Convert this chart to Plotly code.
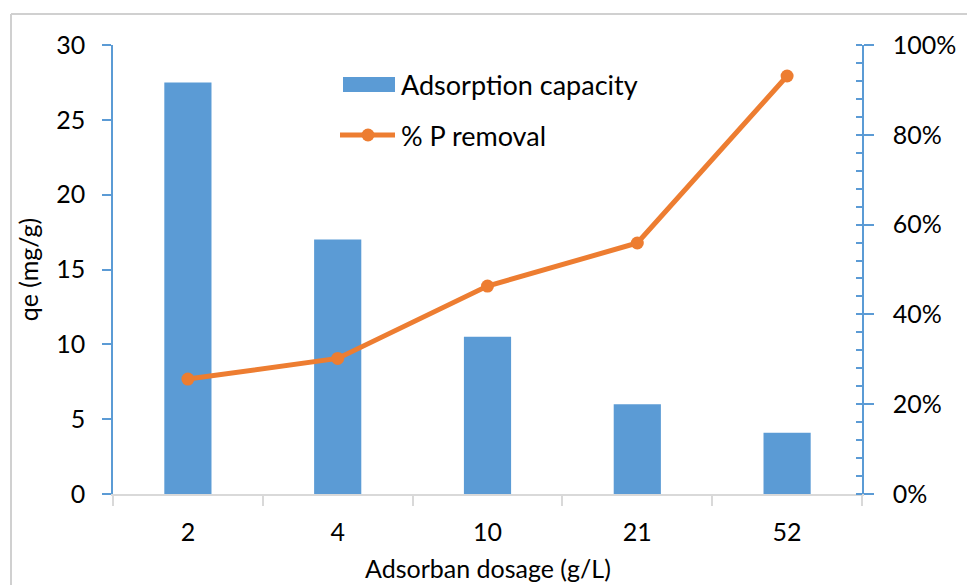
import plotly.graph_objects as go

# Adsorbent dosage (g/L) and measured responses
dosage = ["2", "4", "10", "21", "52"]
qe_mg_g = [27.5, 17.0, 10.5, 6.0, 4.1]
p_removal = [0.256, 0.302, 0.463, 0.559, 0.931]

BLUE = "#5B9BD5"
ORANGE = "#ED7D31"
GREY = "#D9D9D9"
FONT = "Lato"

# plot-area geometry in pixels, used to place the legend and frame in paper units
W, H = 967, 585
L, R, T, B = 113, 105, 45, 91
PW, PH = W - L - R, H - T - B


def px(x):
    return (x - L) / PW


def py(y):
    return (H - B - y) / PH


fig = go.Figure()
fig.add_trace(go.Bar(
    x=dosage, y=qe_mg_g, name="Adsorption capacity",
    marker=dict(color=BLUE, line=dict(width=0)), width=0.315,
    yaxis="y", showlegend=False,
))
fig.add_trace(go.Scatter(
    x=dosage, y=p_removal, name="% P removal", mode="lines+markers",
    line=dict(color=ORANGE, width=5), marker=dict(color=ORANGE, size=13),
    yaxis="y2", showlegend=False,
))

# outer chart frame (top and left edges visible, the rest runs off the page)
shapes = [
    dict(type="line", xref="paper", yref="paper",
         x0=px(11), x1=px(967), y0=py(14), y1=py(14),
         line=dict(color="#D0D0D0", width=2), layer="above"),
    dict(type="line", xref="paper", yref="paper",
         x0=px(11), x1=px(11), y0=py(14), y1=py(585),
         line=dict(color="#D0D0D0", width=2), layer="above"),
]
# legend swatches
shapes.append(dict(type="rect", xref="paper", yref="paper",
                   x0=px(343), x1=px(395), y0=py(92), y1=py(77),
                   fillcolor=BLUE, line=dict(width=0)))
shapes.append(dict(type="line", xref="paper", yref="paper",
                   x0=px(340), x1=px(395), y0=py(135), y1=py(135),
                   line=dict(color=ORANGE, width=5)))
shapes.append(dict(type="circle", xref="paper", yref="paper",
                   x0=px(361.5), x1=px(374.5), y0=py(141.5), y1=py(128.5),
                   fillcolor=ORANGE, line=dict(width=0)))

annotations = [
    dict(text="Adsorption capacity", xref="paper", yref="paper",
         x=px(399), y=py(85), xanchor="left", yanchor="middle",
         showarrow=False, font=dict(family=FONT, size=27, color="#000")),
    dict(text="% P removal", xref="paper", yref="paper",
         x=px(399), y=py(135), xanchor="left", yanchor="middle",
         showarrow=False, font=dict(family=FONT, size=27, color="#000")),
    # horizontal axis title
    dict(text="Adsorban dosage (g/L)", xref="paper", yref="paper",
         x=0.5, y=py(568), xanchor="center", yanchor="middle",
         showarrow=False, font=dict(family=FONT, size=25, color="#000")),
]

fig.update_layout(
    width=W, height=H,
    margin=dict(l=L, r=R, t=T, b=B, pad=0, autoexpand=False),
    paper_bgcolor="white", plot_bgcolor="white",
    font=dict(family=FONT, size=25, color="#000"),
    showlegend=False,
    bargap=0.685,
    shapes=shapes,
    annotations=annotations,
    xaxis=dict(
        type="category", showgrid=False, zeroline=False,
        showline=True, linecolor=GREY, linewidth=1.5,
        ticks="outside", ticklen=10, tickcolor=GREY, tickwidth=1.5,
        tickson="boundaries",
        ticklabelstandoff=15,
        tickfont=dict(size=25),
        automargin=False,
    ),
    yaxis=dict(
        range=[0, 30], dtick=5, showgrid=False, zeroline=False,
        showline=True, linecolor=BLUE, linewidth=1.5,
        ticks="outside", ticklen=9, tickcolor=BLUE, tickwidth=1.5,
        ticklabelstandoff=12,
        tickfont=dict(size=25),
        title=dict(text="qe (mg/g)", font=dict(size=25), standoff=10),
        automargin=False,
    ),
    yaxis2=dict(
        range=[0, 1], dtick=0.2, tickformat=".0%", overlaying="y", side="right",
        showgrid=False, zeroline=False,
        showline=True, linecolor=BLUE, linewidth=1.5,
        ticks="outside", ticklen=10, tickcolor=BLUE, tickwidth=1.5,
        ticklabelstandoff=14,
        tickfont=dict(size=25),
        minor=dict(dtick=0.04, ticks="inside", ticklen=6, tickcolor=BLUE, tickwidth=1.5),
        automargin=False,
    ),
)

fig.write_html("out.html")
